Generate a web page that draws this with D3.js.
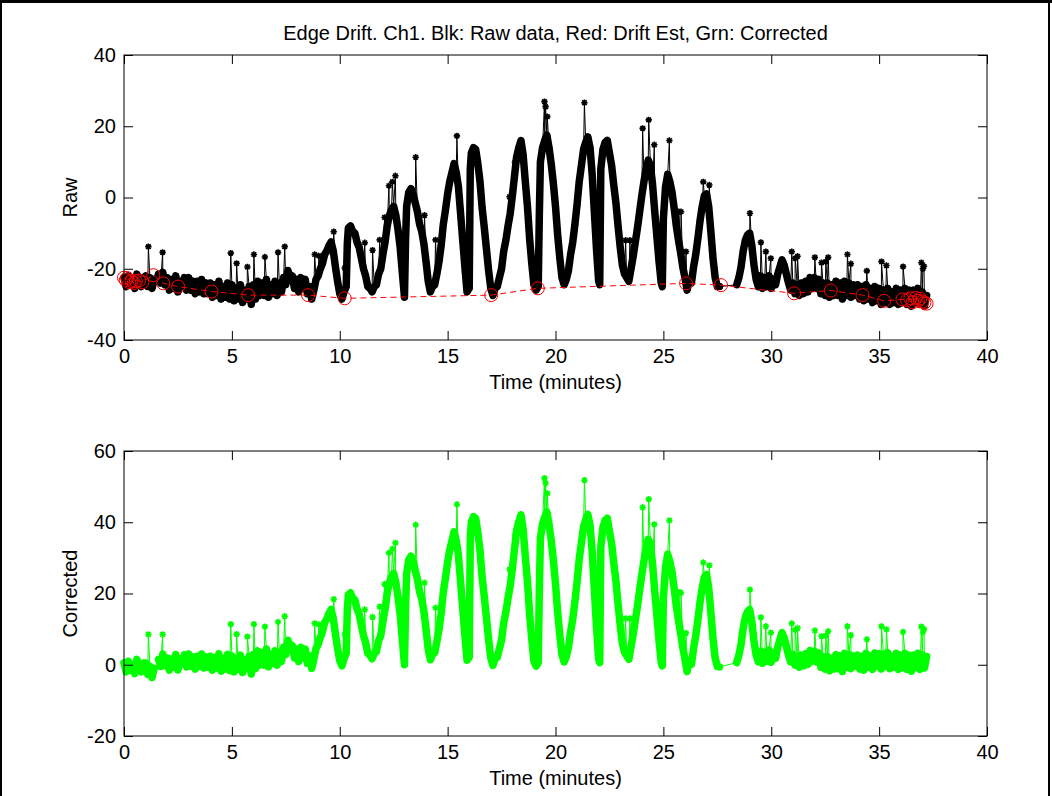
<!DOCTYPE html>
<html>
<head>
<meta charset="utf-8">
<script src="https://cdn.jsdelivr.net/npm/d3@7"></script>
<style>
  body { margin: 0; background: #fff; }
  svg { display: block; }
</style>
</head>
<body>
<div id="chart"></div>
<script>
// sample times in minutes (one row per minute)
var sampleTime = [
  0, 0.1, 0.2, 0.3, 0.4, 0.5, 0.6, 0.7, 0.8, 0.9,
  1, 1.1, 1.2, 1.3, 1.4, 1.5, 1.6, 1.7, 1.8, 1.9,
  2, 2.1, 2.2, 2.3, 2.4, 2.5, 2.6, 2.7, 2.8, 2.9,
  3, 3.1, 3.2, 3.3, 3.4, 3.5, 3.6, 3.7, 3.8, 3.9,
  4, 4.1, 4.2, 4.3, 4.4, 4.5, 4.6, 4.7, 4.8, 4.9,
  5, 5.1, 5.2, 5.3, 5.4, 5.5, 5.6, 5.7, 5.8, 5.9,
  6, 6.1, 6.2, 6.3, 6.4, 6.5, 6.6, 6.7, 6.8, 6.9,
  7, 7.1, 7.2, 7.3, 7.4, 7.5, 7.6, 7.7, 7.8, 7.9,
  8, 8.1, 8.2, 8.3, 8.4, 8.5, 8.6, 8.7, 8.8, 8.9,
  9, 9.1, 9.2, 9.3, 9.4, 9.5, 9.6, 9.7, 9.8, 9.9,
  10, 10.1, 10.2, 10.3, 10.35, 10.4, 10.5, 10.6, 10.7, 10.8, 10.9,
  11, 11.1, 11.2, 11.3, 11.4, 11.5, 11.6, 11.7, 11.8, 11.9,
  12, 12.1, 12.2, 12.3, 12.4, 12.5, 12.6, 12.7, 12.8, 12.9,
  13, 13.05, 13.1, 13.2, 13.3, 13.4, 13.5, 13.6, 13.7, 13.8, 13.9,
  14, 14.1, 14.2, 14.3, 14.4, 14.5, 14.6, 14.7, 14.8, 14.9,
  15, 15.1, 15.2, 15.3, 15.4, 15.5, 15.6, 15.7, 15.8, 15.9,
  16, 16.05, 16.1, 16.2, 16.3, 16.4, 16.5, 16.6, 16.7, 16.8, 16.9,
  17, 17.1, 17.2, 17.3, 17.4, 17.5, 17.6, 17.7, 17.8, 17.9,
  18, 18.1, 18.2, 18.3, 18.4, 18.5, 18.6, 18.7, 18.8, 18.9,
  19, 19.1, 19.2, 19.25, 19.3, 19.4, 19.5, 19.6, 19.7, 19.8, 19.9,
  20, 20.1, 20.2, 20.3, 20.4, 20.5, 20.6, 20.7, 20.8, 20.9,
  21, 21.1, 21.2, 21.3, 21.4, 21.5, 21.6, 21.7, 21.8, 21.9,
  22, 22.05, 22.1, 22.2, 22.3, 22.4, 22.5, 22.6, 22.7, 22.8, 22.9,
  23, 23.1, 23.2, 23.3, 23.4, 23.5, 23.6, 23.7, 23.8, 23.9,
  24, 24.1, 24.2, 24.3, 24.4, 24.5, 24.6, 24.7, 24.8, 24.9, 24.95,
  25, 25.1, 25.2, 25.3, 25.4, 25.5, 25.6, 25.7, 25.8, 25.9,
  26, 26.1, 26.2, 26.3, 26.4, 26.5, 26.6, 26.7, 26.8, 26.9,
  27, 27.1, 27.2, 27.3, 27.4, 27.5, 27.6,
  28.4, 28.5, 28.6, 28.7, 28.8, 28.9,
  29, 29.1, 29.2, 29.3, 29.4, 29.5, 29.6, 29.7, 29.8, 29.9,
  30, 30.1, 30.2, 30.3, 30.4, 30.5, 30.6, 30.7, 30.8, 30.9,
  31, 31.1, 31.2, 31.3, 31.4, 31.5, 31.6, 31.7, 31.8, 31.9,
  32, 32.1, 32.2, 32.3, 32.4, 32.5, 32.6, 32.7, 32.8, 32.9,
  33, 33.1, 33.2, 33.3, 33.4, 33.5, 33.6, 33.7, 33.8, 33.9,
  34, 34.1, 34.2, 34.3, 34.4, 34.5, 34.6, 34.7, 34.8, 34.9,
  35, 35.1, 35.2, 35.3, 35.4, 35.5, 35.6, 35.7, 35.8, 35.9,
  36, 36.1, 36.2, 36.3, 36.4, 36.5, 36.6, 36.7, 36.8, 36.9,
  37, 37.1, 37.2
];

// raw edge signal (black)
var rawValue = [
  -22.5, -25, -22, -24.5, -23, -25.5, -21.5, -24, -25, -22.5,
  -22, -25, -22.5, -25.5, -23, -23.5, -21.5, -24, -21, -24.5,
  -22.5, -26, -23, -25.5, -22, -26.5, -23.5, -25, -22.5, -26,
  -22.5, -26, -23.5, -27, -23.5, -26.5, -23, -27, -24, -27,
  -24, -28, -24.5, -27.5, -23.5, -28.5, -25, -28, -24, -28.5,
  -24.5, -29, -25.5, -28.5, -24.5, -29.5, -26, -28.5, -25, -30,
  -24.5, -28.5, -23.5, -27.5, -24, -27.5, -23, -28, -24.5, -27,
  -23.5, -27.5, -24, -26.5, -22.5, -24.5, -20.5, -22.5, -22, -25.5,
  -23, -26.5, -22.5, -25.5, -23, -27, -25, -28.5, -26, -23,
  -22, -20, -18.5, -16, -15, -13.5, -12.5, -15, -19.5, -23.5,
  -27, -28.5, -26.5, -25, -13, -8.5, -8, -9.5, -10, -12.5, -14,
  -17, -20, -22, -25, -25.5, -26.5, -25, -24.5, -21.5, -20,
  -16, -12.5, -8, -5, -3.5, -2.5, -5, -9, -14, -21,
  -28, -12, -2.5, 1.5, 2.5, 1, -1.5, -4, -7.5, -9.5, -13,
  -18, -23.5, -26.5, -25, -24.5, -21.5, -18, -13.5, -7.5, -3.5,
  1, 4.5, 7, 9.5, 7, 3, -4.5, -12, -19.5, -26.5,
  -25.5, 8, 12.5, 14, 13.5, 9.5, 4.5, -3, -8.5, -14.5, -20.5,
  -25.5, -27.5, -25.5, -25, -22.5, -20, -15, -12, -8, -4.5,
  0.5, 6, 11.5, 14, 16, 12, 4.5, -2.5, -11.5, -18.5,
  -24.5, -26, -25, -5, 10, 14, 16, 17.5, 14, 9.5, 4,
  -2.5, -10.5, -17, -22.5, -24.5, -23, -20.5, -16, -12.5, -7.5,
  -2, 4.5, 9, 13.5, 15.5, 17, 14, 6.5, -4, -14.5,
  -23.5, -24.5, 8, 13.5, 15.5, 16, 12.5, 9, 3.5, -1.5, -8,
  -14, -19, -21.5, -22.5, -23.5, -20, -16.5, -12.5, -8.5, -4,
  0.5, 4.5, 8, 10.5, 9, 3.5, -4, -11, -18, -24, -25,
  -6, 3, 6.5, 4.5, 1.5, -3, -8, -12, -15.5, -19.5,
  -22.5, -26, -23, -24, -19.5, -16, -11.5, -6.5, -2.5, 0.5,
  1, -2.5, -9.5, -17, -22.5, -25, -25,
  -24.5, -22.5, -19.5, -15, -12, -10.5,
  -10, -13.5, -19, -23, -25, -22, -25.5, -22.5, -25, -22,
  -25.5, -23, -24.5, -21.5, -19.5, -17.5, -19, -21.5, -24, -26,
  -24, -27, -24.5, -27.5, -24, -27, -23.5, -26.5, -22.5, -25.5,
  -22.5, -25.5, -23, -27, -24, -27.5, -24, -28, -24.5, -27.5,
  -23.5, -27.5, -24, -28.5, -23.5, -27.5, -24, -28, -24.5, -27.5,
  -24.5, -28.5, -25, -29, -24.5, -28.5, -25.5, -29.5, -25, -29,
  -25.5, -30, -26, -29.5, -25.5, -30, -26.5, -29.5, -25.5, -30,
  -26, -29.5, -25.5, -30, -26, -30.5, -26, -29.5, -25.5, -30,
  -26.5, -30.5, -27.5
];

// drift-corrected signal (green), null = missing sample
var correctedValue = [
  0.5, -2, 1, -1.5, 0, -2.5, 1.5, -1, -2, 0.5,
  0.5, -2.7, -0.4, -3.6, -1, null, 1.5, -0.5, 3, -0.3,
  1.9, -1.5, 1.6, -0.7, 2.9, -1.5, 1.6, 0.2, 2.8, -0.6,
  3, -0.4, 2.2, -1.2, 2.4, -0.5, 3, -0.9, 2.2, -0.7,
  2.4, -1.5, 2, -0.9, 3.1, -1.8, 1.8, -1.2, 2.9, -1.6,
  2.5, -2, 1.6, -1.3, 2.7, -2.2, 1.3, -1.1, 2.4, -2.6,
  2.9, -1.1, 3.9, -0.1, 3.4, -0.1, 4.4, -0.6, 2.9, 0.4,
  3.9, -0.1, 3.4, 0.9, 4.9, 2.9, 6.9, 4.9, 5.4, 1.9,
  4.4, 0.9, 4.9, 1.9, 4.4, 0.4, 2.5, -1, 1.6, 4.6,
  5.7, 7.7, 9.3, 11.8, 12.9, 14.4, 15.5, 13, 8.6, 4.6,
  1.2, -0.3, 1.7, 3.2, 15.2, 19.7, 20.2, 18.7, 18.2, 15.7, 14.2,
  11.2, 8.2, 6.2, 3.2, 2.7, 1.7, 3.2, 3.7, 6.7, 8.2,
  12.1, 15.6, 20.1, 23.1, 24.6, 25.6, 23.1, 19.1, 14.1, 7.1,
  0, 16, 25.5, 29.5, 30.5, 29, 26.5, 24, 20.5, 18.5, 15,
  9.9, 4.4, 1.4, 2.9, 3.4, 6.4, 9.9, 14.4, 20.4, 24.4,
  28.8, 32.3, 34.8, 37.3, 34.8, 30.8, 23.3, 15.8, 8.3, 1.3,
  2.1, 35.6, 40.1, 41.6, 41.1, 37.1, 32.1, 24.6, 19.1, 13.1, 7.1,
  1.9, -0.2, 1.7, 2.1, 4.5, 6.9, 11.8, 14.8, 18.7, 22.1,
  27, 32.4, 37.8, 40.2, 42.1, 38, 30.5, 23.4, 14.3, 7.2,
  1.1, -0.4, 0.5, 20.5, 35.5, 39.5, 41.4, 42.9, 39.4, 35, 29.4,
  22.8, 14.8, 8.3, 2.8, 0.8, 2.3, 4.8, 9.3, 12.8, 17.8,
  23.2, 29.7, 34.2, 38.7, 40.7, 42.2, 39.2, 31.7, 21.2, 10.7,
  1.6, 0.6, 33.1, 38.6, 40.6, 41.1, 37.6, 34.1, 28.6, 23.6, 17.1,
  11, 6, 3.5, 2.5, 1.5, 5, 8.5, 12.5, 16.5, 21,
  25.2, 29.2, 32.7, 35.2, 33.7, 28.2, 20.7, 13.7, 6.7, 0.7, -0.3,
  18.5, 27.5, 31, 29, 26, 21.5, 16.5, 12.5, 8.9, 4.8,
  1.6, -1.9, 1.1, 0.1, 4.6, 8.1, 12.6, 17.6, 21.6, 24.6,
  25.3, 21.8, 14.8, 7.4, 1.9, -0.5, -0.6,
  0.6, 2.7, 5.7, 10.3, 13.4, 14.9,
  15.5, 12.1, 6.6, 2.7, 0.8, 3.8, 0.4, 3.5, 1, 4.1,
  0.7, 3.3, 1.8, 4.9, 7, 9, 7.6, 5.2, 2.7, 0.8,
  2.9, -0.1, 2.3, -0.7, 2.7, -0.3, 3.1, 0.1, 4, 1,
  3.8, 0.8, 3.3, -0.7, 2.3, -1.2, 2.3, -1.7, 1.8, -1.2,
  2.8, -1.1, 2.5, -1.9, 3.2, -0.7, 2.9, -1.1, 2.5, -0.4,
  2.7, -1.2, 2.4, -1.5, 3.2, -0.7, 2.5, -1.3, 3.3, -0.5,
  3.1, -1.2, 3, -0.5, 3.4, -1.1, 2.3, -0.7, 3.2, -1.3,
  2.7, -0.8, 3.2, -1.3, 2.7, -1.8, 2.7, -0.8, 3.2, -1.3,
  2.8, -0.9, 2.3
];

// isolated spikes (single samples far above the band)
var spikeTime = [1.13, 1.79, 4.95, 5.22, 5.72, 6.02, 6.53, 7.14, 7.45, 8.84, 9.03, 9.72, 10.23, 11.16, 11.52, 11.85,
  12.08, 12.28, 12.44, 12.58, 13.52, 13.93, 14.44, 15.43, 15.79, 17.87, 18.12, 19.49, 19.54, 19.62, 21.34,
  23.25, 23.45, 24.04, 24.32, 24.58, 25.28, 25.72, 25.82, 26.05, 26.85, 27.13, 29.01, 29.52, 29.75, 29.98,
  30.95, 31.11, 31.22, 32.02, 32.33, 32.53, 32.64, 33.53, 33.69, 34.43, 35.11, 35.34, 36.11, 36.96, 37.03, 37.08];
var spikeRaw = [-13.8, -15.4, -15.6, -18.5, -19.5, -16, -16.7, -15.4, -13.8, -16, -16.4, -9.6, -19.8, -12.7, -14.8, -11.9,
  -5.6, 3.3, 4.4, 6.1, 11.3, -5, -11.9, 17.3, -11.6, 0.2, 9.9, 26.9, 25.5, 22.7, 26.6,
  -12, -12, 19.4, 21.8, 14.8, 16, -4, -4, -15.2, 4.4, 3.5, -4.4, -12.6, -15.2, -17.1,
  -15.2, -17.1, -16.5, -16.8, -18.3, -18, -16.8, -16, -18.6, -20.6, -18, -19.1, -19.4, -18.3, -20, -19.3];
var spikeCorrected = [8.5, 8.5, 11.4, 8.6, 7.9, 11.4, 10.7, 12, 13.6, 11.6, 11.3, 18.4, 8.5, 15.5, 13.4, 16.3,
  22.6, 31.4, 32.5, 34.2, 39.3, 23, 16, 45, 16.1, 26.8, 36.3, 52.4, 51, 48.1, 51.8,
  13, 13, 44.2, 46.5, 39.4, 40.5, 20.4, 20.2, 8.9, 28.7, 27.9, 21.1, 13.3, 10.8, 9,
  11.6, 9.8, 10.3, 9.6, 8, 8.2, 9.4, 10.8, 8.3, 7.1, 10.8, 9.9, 9.2, 10.7, 9.2, 10];

// drift estimate (red circles)
var driftTime = [0, 0.08, 0.15, 0.25, 0.35, 0.45, 0.55, 0.7, 0.85, 1.36, 1.82, 2.51, 4.06, 5.76, 8.53, 10.23,
  17.02, 19.18, 26.05, 27.67, 31.06, 32.76, 34.23, 35.23, 36.08, 36.3, 36.45, 36.55, 36.7, 36.8, 36.9, 37, 37.1, 37.2];
var driftValue = [-22.5, -23.2, -22.6, -23.8, -23.4, -24, -23.5, -23.3, -23.8, -21.8, -24.1, -25, -26.4, -27.4, -27.4, -28.3,
  -27.4, -25.5, -24.1, -24.6, -26.9, -26.1, -27.4, -29, -28.6, -28.8, -28.3, -29.4, -28.2, -29, -28.4, -29.2, -29.5, -29.8];

var xTicks = [0, 5, 10, 15, 20, 25, 30, 35, 40];
var rawTicks = [-40, -20, 0, 20, 40];
var correctedTicks = [-20, 0, 20, 40, 60];

var W = 1052, H = 796;
var FONT = '"Liberation Sans", Arial, Helvetica, sans-serif';
var FS = 20;

var svg = d3.select('#chart').append('svg')
  .attr('width', W)
  .attr('height', H);

svg.append('rect').attr('width', W).attr('height', H).attr('fill', '#fff');
// window frame
svg.append('rect').attr('x', 0).attr('y', 0).attr('width', W).attr('height', 3).attr('fill', '#000');
svg.append('rect').attr('x', 0).attr('y', 0).attr('width', 2).attr('height', H).attr('fill', '#000');
svg.append('rect').attr('x', 1048).attr('y', 0).attr('width', 2).attr('height', H).attr('fill', '#000');

var x = d3.scaleLinear().domain([0, 40]).range([124, 987]);
var yRaw = d3.scaleLinear().domain([-40, 40]).range([340, 55]);
var yCor = d3.scaleLinear().domain([-20, 60]).range([736, 451]);

var star = 'M-3.2,0H3.2M0,-3.2V3.2M-2.3,-2.3L2.3,2.3M-2.3,2.3L2.3,-2.3';

function mergeSeries(times, vals, sTimes, sVals) {
  var pts = times.map(function(t, i) { return {t: t, v: vals[i]}; });
  sTimes.forEach(function(t, i) { pts.push({t: t, v: sVals[i]}); });
  pts.sort(function(a, b) { return a.t - b.t; });
  return pts;
}

function drawSeries(y, times, vals, sTimes, sVals, color) {
  var g = svg.append('g');
  var line = d3.line()
    .defined(function(d) { return d.v != null; })
    .x(function(d) { return x(d.t); })
    .y(function(d) { return y(d.v); });

  // dense band of the regular samples (break where samples are missing)
  var band = [];
  times.forEach(function(t, i) {
    if (i > 0 && t - times[i - 1] > 0.3) band.push({t: t, v: null});
    band.push({t: t, v: vals[i]});
  });
  g.append('path')
    .datum(band)
    .attr('fill', 'none')
    .attr('stroke', color)
    .attr('stroke-width', 7.5)
    .attr('stroke-linejoin', 'round')
    .attr('stroke-linecap', 'round')
    .attr('d', line);

  var pts = mergeSeries(times, vals, sTimes, sVals);
  g.append('path')
    .datum(pts)
    .attr('fill', 'none')
    .attr('stroke', color)
    .attr('stroke-width', 1)
    .attr('d', line);
  g.selectAll('.mk')
    .data(pts.filter(function(d) { return d.v != null; }))
    .enter()
    .append('path')
    .attr('class', 'mk')
    .attr('d', star)
    .attr('transform', function(d) { return 'translate(' + x(d.t) + ',' + y(d.v) + ')'; })
    .attr('fill', 'none')
    .attr('stroke', color)
    .attr('stroke-width', 1.6);
}

function drawAxes(y, yTicks, yLabel) {
  var top = y.range()[1], bottom = y.range()[0];
  var left = x.range()[0], right = x.range()[1];
  var fmt = function(d) { return String(d); };
  var g = svg.append('g');

  g.append('g').attr('transform', 'translate(0,' + bottom + ')')
    .call(d3.axisBottom(x).tickValues(xTicks).tickFormat(fmt).tickSizeInner(-9).tickSizeOuter(0).tickPadding(9));
  g.append('g').attr('transform', 'translate(0,' + top + ')')
    .call(d3.axisTop(x).tickValues(xTicks).tickFormat('').tickSizeInner(-9).tickSizeOuter(0));
  g.append('g').attr('transform', 'translate(' + left + ',0)')
    .call(d3.axisLeft(y).tickValues(yTicks).tickFormat(fmt).tickSizeInner(-9).tickSizeOuter(0).tickPadding(8));
  g.append('g').attr('transform', 'translate(' + right + ',0)')
    .call(d3.axisRight(y).tickValues(yTicks).tickFormat('').tickSizeInner(-9).tickSizeOuter(0));

  g.selectAll('.domain').remove();
  g.selectAll('.tick line').attr('stroke', '#000');
  g.selectAll('text')
    .attr('font-family', FONT)
    .attr('font-size', FS)
    .attr('fill', '#000');

  g.append('rect')
    .attr('x', left).attr('y', top)
    .attr('width', right - left).attr('height', bottom - top)
    .attr('fill', 'none').attr('stroke', '#000').attr('stroke-width', 1);

  g.append('text')
    .attr('x', (left + right) / 2)
    .attr('y', bottom + 49)
    .attr('text-anchor', 'middle')
    .attr('font-family', FONT).attr('font-size', FS)
    .text('Time (minutes)');

  g.append('text')
    .attr('transform', 'translate(77,' + (top + bottom) / 2 + ') rotate(-90)')
    .attr('text-anchor', 'middle')
    .attr('font-family', FONT).attr('font-size', FS)
    .text(yLabel);
}

// top panel: raw data + drift estimate
drawSeries(yRaw, sampleTime, rawValue, spikeTime, spikeRaw, '#000');

var drift = driftTime.map(function(t, i) { return {t: t, v: driftValue[i]}; });
var dg = svg.append('g');
dg.append('path')
  .datum(drift)
  .attr('fill', 'none')
  .attr('stroke', '#ff0000')
  .attr('stroke-width', 1)
  .attr('stroke-dasharray', '6,4')
  .attr('d', d3.line().x(function(d) { return x(d.t); }).y(function(d) { return yRaw(d.v); }));
dg.selectAll('circle')
  .data(drift)
  .enter()
  .append('circle')
  .attr('cx', function(d) { return x(d.t); })
  .attr('cy', function(d) { return yRaw(d.v); })
  .attr('r', 6.5)
  .attr('fill', 'none')
  .attr('stroke', '#ff0000')
  .attr('stroke-width', 1);

drawAxes(yRaw, rawTicks, 'Raw');

// bottom panel: corrected data
drawSeries(yCor, sampleTime, correctedValue, spikeTime, spikeCorrected, '#00ff00');
drawAxes(yCor, correctedTicks, 'Corrected');

svg.append('text')
  .attr('x', (x.range()[0] + x.range()[1]) / 2)
  .attr('y', 40)
  .attr('text-anchor', 'middle')
  .attr('font-family', FONT)
  .attr('font-size', FS)
  .text('Edge Drift. Ch1. Blk: Raw data, Red: Drift Est, Grn: Corrected');
</script>
</body>
</html>
